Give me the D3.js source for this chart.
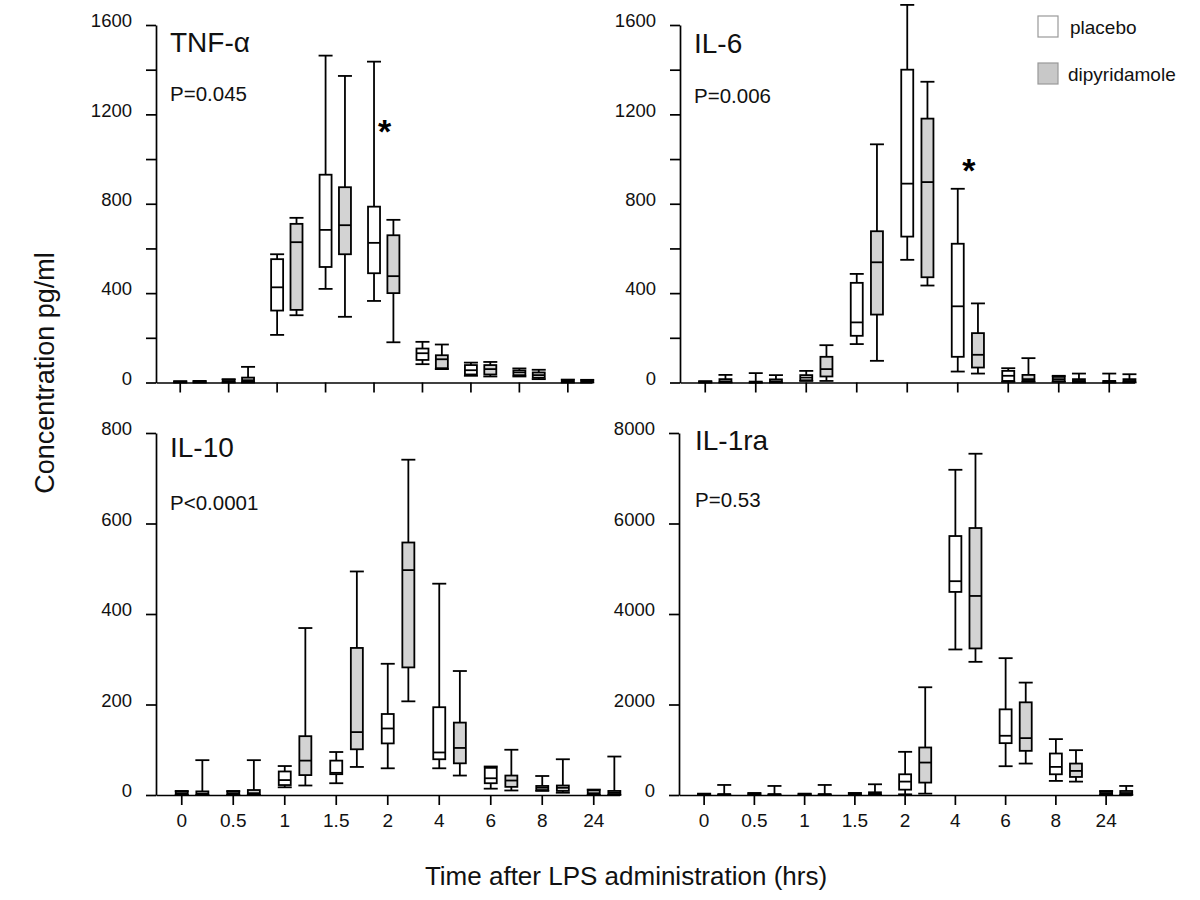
<!DOCTYPE html>
<html>
<head>
<meta charset="utf-8">
<script src="https://cdn.jsdelivr.net/npm/d3@7"></script>
<style>
  body { margin: 0; background: #fff; }
  svg { font-family: "Liberation Sans", Arial, sans-serif; }
</style>
</head>
<body>
<svg width="1200" height="900"></svg>
<script>
// time points on the x axis (hrs)
var times = ["0", "0.5", "1", "1.5", "2", "4", "6", "8", "24"];

// each box: [low whisker, Q1, median, Q3, high whisker]
var tnfPlacebo = [[0,1,2,4,6],[0,3,6,12,15],[213,322,426,552,574],[419,517,683,930,1463],[365,489,625,787,1436],
                  [82,101,131,152,182],[30,36,55,78,89],[27,33,45,54,63],[0,3,6,10,13]];
var tnfDipy    = [[0,1,3,5,7],[0,3,10,22,70],[301,325,628,710,737],[294,574,704,874,1372],[180,400,476,659,728],
                  [60,64,104,122,170],[27,36,60,78,92],[15,21,33,45,57],[0,2,5,9,12]];

var il6Placebo = [[0,1,2,4,6],[0,0,2,4,42],[7,10,22,33,52],[172,209,269,446,486],[549,653,890,1400,1690],
                  [49,115,341,621,867],[3,7,30,52,64],[3,6,15,25,30],[0,1,4,7,40]];
var il6Dipy    = [[0,2,5,15,34],[0,2,5,14,33],[7,27,60,115,167],[97,304,538,677,1066],[434,471,897,1181,1346],
                  [40,67,124,221,354],[3,7,15,34,109],[0,3,7,15,40],[0,3,7,15,37]];

var il10Placebo = [[0,1,3,7,9],[0,1,3,7,9],[17,22,33,52,64],[26,46,49,76,95],[59,114,147,179,290],
                   [59,79,94,194,467],[14,26,37,60,63],[9,11,16,20,42],[0,2,4,10,12]];
var il10Dipy    = [[0,1,3,8,77],[0,1,4,11,77],[21,44,76,130,369],[62,101,139,325,494],[207,282,497,558,741],
                   [43,70,104,160,274],[10,18,32,43,100],[5,9,16,21,79],[0,2,5,9,85]];

var il1raPlacebo = [[0,5,10,20,30],[0,5,15,30,45],[0,5,10,20,30],[0,10,20,35,45],[15,118,296,458,954],
                    [3216,4488,4725,5723,7187],[636,1146,1309,1893,3024],[311,458,621,917,1235],[0,20,40,70,90]];
var il1raDipy    = [[0,5,10,20,222],[0,5,10,20,200],[0,5,10,20,222],[0,15,30,60,237],[30,274,717,1050,2381],
                    [2943,3239,4399,5900,7542],[695,976,1257,2048,2484],[296,399,532,695,991],[0,20,44,89,200]];

var names = ["TNF-α", "IL-6", "IL-10", "IL-1ra"];
var pValues = ["P=0.045", "P=0.006", "P<0.0001", "P=0.53"];
var yMax = [1600, 1600, 800, 8000];
var tickStep = [200, 200, 200, 2000];
var labelStep = [400, 400, 200, 2000];
// significant time point and the height of its star (null = none)
var starTime = ["2", "4", null, null];
var starValue = [1150, 975, null, null];

var seriesNames = ["placebo", "dipyridamole"];
var seriesFill = ["#ffffff", "#d3d3d3"];

// layout of the four panels
var layout = [
  {x0: 156, step: 48.45, top: 25,  bottom: 382.5, showX: false, lx: 170, ly: 52,  py: 101},
  {x0: 680, step: 50.5,  top: 25,  bottom: 382.5, showX: false, lx: 694, ly: 53,  py: 103},
  {x0: 156, step: 51.5,  top: 433, bottom: 795,   showX: true,  lx: 170, ly: 457, py: 510},
  {x0: 679, step: 50.25, top: 433, bottom: 795,   showX: true,  lx: 695, ly: 450, py: 507}
];
var data = [[tnfPlacebo, tnfDipy], [il6Placebo, il6Dipy], [il10Placebo, il10Dipy], [il1raPlacebo, il1raDipy]];

var svg = d3.select("svg");
var boxW = 12, capW = 14;

layout.forEach(function(L, k) {
  var g = svg.append("g");

  var x = d3.scaleBand().domain(times).range([L.x0, L.x0 + 9 * L.step]);
  var y = d3.scaleLinear().domain([0, yMax[k]]).range([L.bottom, L.top]);

  // axes
  var xAxis = d3.axisBottom(x).tickSize(10).tickSizeOuter(0).tickPadding(9);
  if (!L.showX) xAxis.tickFormat("");
  var gx = g.append("g").attr("transform", "translate(0," + L.bottom + ")").call(xAxis);

  var yAxis = d3.axisLeft(y)
    .tickValues(d3.range(0, yMax[k] + 1, tickStep[k]))
    .tickFormat(function(d) { return d % labelStep[k] === 0 ? d : ""; })
    .tickSize(10).tickSizeOuter(0).tickPadding(14);
  var gy = g.append("g").attr("transform", "translate(" + L.x0 + ",0)").call(yAxis);

  [gx, gy].forEach(function(a) {
    a.selectAll("path, line").attr("stroke", "#000").attr("stroke-width", 1.7);
    a.selectAll("text").attr("fill", "#111");
  });
  gx.selectAll("text").attr("font-size", 19);
  gy.selectAll("text").attr("font-size", 18.5).attr("dy", "0.1em");

  // boxes
  data[k].forEach(function(series, s) {
    var off = x.bandwidth() / 2 + s * 0.4 * L.step;
    var box = g.selectAll(".b" + s).data(series).enter().append("g")
      .attr("transform", function(d, i) { return "translate(" + (x(times[i]) + off) + ",0)"; });

    box.append("line").attr("x1", 0).attr("x2", 0)
      .attr("y1", function(d) { return y(d[0]); }).attr("y2", function(d) { return y(d[4]); });
    box.selectAll(".cap").data(function(d) { return [d[0], d[4]]; }).enter().append("line")
      .attr("x1", -capW / 2).attr("x2", capW / 2)
      .attr("y1", function(v) { return y(v); }).attr("y2", function(v) { return y(v); });
    box.append("rect")
      .attr("x", -boxW / 2).attr("width", boxW)
      .attr("y", function(d) { return y(d[3]); })
      .attr("height", function(d) { return y(d[1]) - y(d[3]); })
      .attr("fill", seriesFill[s]);
    box.append("line").attr("x1", -boxW / 2).attr("x2", boxW / 2)
      .attr("y1", function(d) { return y(d[2]); }).attr("y2", function(d) { return y(d[2]); });

    box.selectAll("line, rect").attr("stroke", "#000").attr("stroke-width", 1.8);
  });

  // panel title and p value
  g.append("text").attr("x", L.lx).attr("y", L.ly).attr("font-size", 28).attr("fill", "#111").text(names[k]);
  g.append("text").attr("x", L.lx).attr("y", L.py).attr("font-size", 20.5).attr("fill", "#111").text(pValues[k]);

  if (starTime[k] !== null) {
    g.append("text")
      .attr("x", x(starTime[k]) + x.bandwidth() / 2 + 0.22 * L.step)
      .attr("y", y(starValue[k]) + 0.52 * 34)
      .attr("text-anchor", "middle").attr("font-size", 34).attr("font-weight", "bold")
      .text("*");
  }
});

// legend
var legend = svg.append("g").attr("transform", "translate(1038,16)");
seriesNames.forEach(function(n, i) {
  legend.append("rect").attr("x", 0).attr("y", i * 47).attr("width", 20).attr("height", 21)
    .attr("fill", i === 0 ? "#fff" : "#c8c8c8").attr("stroke", "#999").attr("stroke-width", 1.2);
  legend.append("text").attr("x", i === 0 ? 32 : 30).attr("y", i * 47 + 17.5)
    .attr("font-size", 19).attr("fill", "#111").text(n);
});

// axis titles
svg.append("text").attr("transform", "translate(54,373) rotate(-90)")
  .attr("text-anchor", "middle").attr("font-size", 27).attr("fill", "#111")
  .text("Concentration pg/ml");
svg.append("text").attr("x", 626).attr("y", 885)
  .attr("text-anchor", "middle").attr("font-size", 26).attr("fill", "#111")
  .text("Time after LPS administration (hrs)");
</script>
</body>
</html>
